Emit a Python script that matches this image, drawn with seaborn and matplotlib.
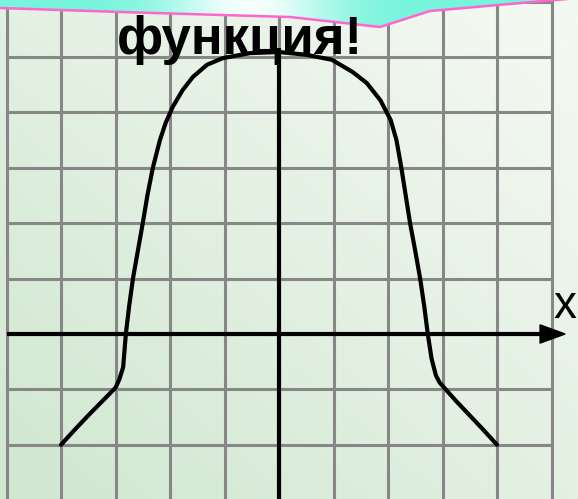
import numpy as np
import pandas as pd
import matplotlib
matplotlib.use("Agg")
import matplotlib.pyplot as plt
from matplotlib.patches import Polygon
import seaborn as sns

# Curve of the function, read point by point on the unit grid
curve_x = [-4.0, -3.75, -3.5, -3.25, -3.0, -2.93, -2.86, -2.81, -2.75,
           -2.68, -2.59, -2.50, -2.415, -2.315, -2.185, -2.08, -1.95,
           -1.77, -1.58, -1.32, -1.03, -0.53, 0.0,
           0.50, 0.97, 1.35, 1.61, 1.86, 2.05, 2.155, 2.245, 2.325, 2.405,
           2.50, 2.59, 2.665, 2.73, 2.80, 2.88, 2.95, 3.25, 3.5, 3.75, 4.0]
curve_y = [-2.0, -1.73, -1.47, -1.22, -0.97, -0.82, -0.60, 0.0, 0.5,
           1.0, 1.5, 2.0, 2.5, 3.0, 3.5, 3.81, 4.10,
           4.40, 4.64, 4.86, 4.98, 5.07, 5.09,
           5.04, 4.95, 4.73, 4.53, 4.22, 3.86, 3.5, 3.0, 2.5, 2.0,
           1.5, 1.0, 0.5, 0.0, -0.45, -0.75, -0.88, -1.21, -1.47, -1.73, -2.0]

title_text = "функция!"
axis_label = "x"

df = pd.DataFrame({"x": curve_x, "y": curve_y})

W, H = 578, 499
fig = plt.figure(figsize=(W / 100, H / 100), dpi=100)
ax = fig.add_axes([0, 0, 1, 1])

# pixel geometry of the unit grid
X0, Y0 = 279.0, 334.0      # origin
SX, SY = 54.5, 55.4        # pixels per unit
xmin, xmax = (0 - X0) / SX, (W - X0) / SX
ymax, ymin = Y0 / SY, (Y0 - H) / SY
ax.set_xlim(xmin, xmax)
ax.set_ylim(ymin, ymax)
ax.axis("off")

# soft green background gradient (greener bottom-left, lighter top-right)
gx, gy = np.meshgrid(np.linspace(0, 1, 300), np.linspace(0, 1, 300))
t = np.clip(0.55 * gx + 0.55 * (1 - gy), 0, 1)[..., None]
c_dark = np.array([208, 231, 208]) / 255
c_light = np.array([243, 248, 241]) / 255
bg = c_dark * (1 - t) + c_light * t
ax.imshow(bg, extent=[xmin, xmax, ymin, ymax], origin="upper",
          aspect="auto", zorder=0, interpolation="bilinear")

# grid of unit squares
grid_col = "#878787"
for gxv in range(-5, 6):
    ax.plot([gxv, gxv], [ymin, ymax], color=grid_col, lw=2.2, zorder=1,
            solid_capstyle="butt")
for gyv in range(-3, 7):
    ax.plot([-5, 5], [gyv, gyv], color=grid_col, lw=2.2, zorder=1,
            solid_capstyle="butt")

# coordinate axes
ax.plot([-5.0, 4.85], [0, 0], color="black", lw=3.0, zorder=3,
        solid_capstyle="butt")
ax.add_patch(Polygon([[4.79, 0.165], [5.25, 0.0], [4.79, -0.165]],
                     closed=True, color="black", zorder=3))
ax.plot([0, 0], [ymin, 5.16], color="black", lw=3.0, zorder=3,
        solid_capstyle="butt")

# the function graph
sns.lineplot(data=df, x="x", y="y", sort=False, color="black", lw=3.0,
             ax=ax, zorder=4, legend=False)
ax.lines[-1].set_solid_joinstyle("round")
ax.lines[-1].set_solid_capstyle("round")
ax.set_xlabel("")
ax.set_ylabel("")
ax.axis("off")

ax.text((553 - X0) / SX, (Y0 - 318) / SY, axis_label, fontsize=33,
        family="Liberation Sans", color="black", ha="left", va="baseline",
        zorder=5)

# overlay in pixel coordinates for the header banner
ov = fig.add_axes([0, 0, 1, 1], facecolor="none")
ov.set_xlim(0, W)
ov.set_ylim(H, 0)
ov.axis("off")

edge = [(0, 8), (120, 12), (290, 17), (380, 27), (430, 11), (578, -2)]
poly = Polygon([(0, -5)] + edge + [(578, -5)], closed=True,
               facecolor="none", edgecolor="none")
ov.add_patch(poly)
bx = np.linspace(0, 1, 400)
w = np.exp(-((bx * W - 250) / 85) ** 2)
aqua = np.array([118, 244, 220]) / 255
white = np.array([246, 255, 253]) / 255
band = aqua[None, :] * (1 - w[:, None]) + white[None, :] * w[:, None]
band = np.tile(band[None, :, :], (40, 1, 1))
im = ov.imshow(band, extent=[0, W, 35, -5], aspect="auto", zorder=6,
               interpolation="bilinear")
im.set_clip_path(poly)
ex, ey = zip(*edge)
ov.plot(ex, ey, color="#ff66cc", lw=1.8, zorder=7)

ov.text(240, 54, title_text, fontsize=38, fontweight="bold",
        family="Liberation Sans", color="black", ha="center",
        va="baseline", zorder=8)

fig.savefig("out.png", dpi=100)
